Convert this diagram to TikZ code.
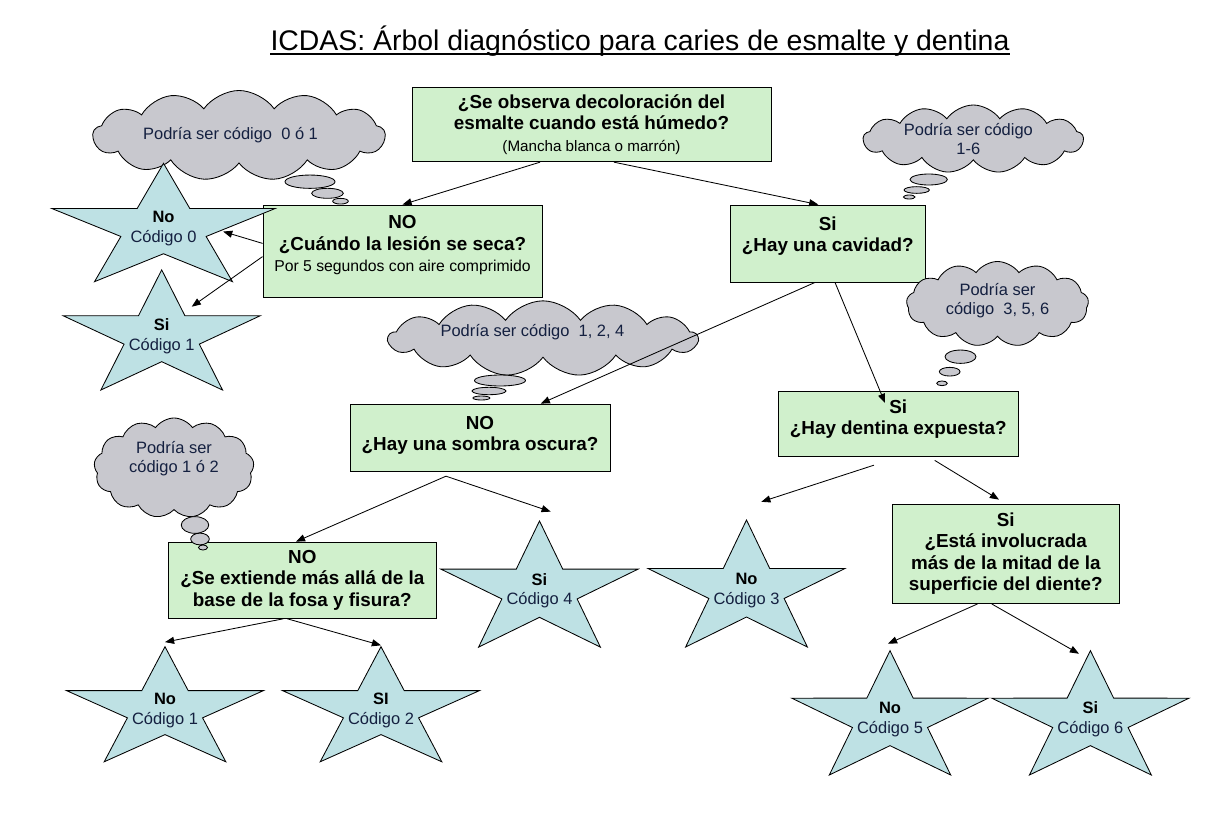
\documentclass[tikz,border=0pt]{standalone}
\usepackage{fontspec}
\setmainfont{Liberation Sans}
\usetikzlibrary{shapes.geometric,shapes.symbols,arrows.meta}

\definecolor{boxgreen}{RGB}{208,240,204}
\definecolor{starblue}{RGB}{190,225,228}
\definecolor{cloudgray}{RGB}{200,200,206}
\definecolor{inknavy}{RGB}{20,32,64}

% depth strut that lifts the text inside a fixed-size node
\newcommand{\padbelow}[1]{\rule[-#1]{0pt}{#1}}

\tikzset{
  question/.style={draw=black, line width=0.6pt, fill=boxgreen, align=center, inner sep=0pt,
    font=\fontsize{13.4}{15.3}\selectfont\bfseries},
  codestar/.style={star, star points=5, star point ratio=2.618, draw=black, line width=0.6pt,
    fill=starblue, inner sep=0pt},
  startext/.style={align=center, inner sep=0pt, text=inknavy, font=\fontsize{11.7}{14}\selectfont},
  thought/.style={cloud, cloud puffs=13, cloud puff arc=110, cloud ignores aspect, draw=black,
    line width=0.6pt, fill=cloudgray, align=center, inner sep=0pt, text=inknavy,
    font=\fontsize{11.7}{13.5}\selectfont},
  bubble/.style={ellipse, draw=black, line width=0.6pt, fill=cloudgray, inner sep=0pt},
  link/.style={line width=0.6pt, -{Triangle[length=6.5pt,width=5pt]}}
}

\begin{document}
\begin{tikzpicture}[x=0.025cm, y=-0.025cm]
        % Page
        \fill[white] (0,0) rectangle (1232,816);
        \useasboundingbox (0,0) rectangle (1232,816);

        % Title
        \node[anchor=base, inner sep=0pt, font=\fontsize{20.2}{24}\selectfont] (title) at (640,50)
            {ICDAS: Árbol diagnóstico para caries de esmalte y dentina};
        \draw[line width=1.4pt] ([yshift=-2.8pt]title.base west) -- ([yshift=-2.8pt]title.base east);

        % Question boxes
        \node[question, minimum width=8.975cm, minimum height=1.8675cm] (q0) at (591.5,124.4)
            {¿Se observa decoloración del\\esmalte cuando está húmedo?\\
             {\mdseries\fontsize{10.8}{13}\selectfont (Mancha blanca o marrón)}};
        \node[question, minimum width=6.975cm, minimum height=2.3cm] (n1) at (402.5,251)
            {NO\\¿Cuándo la lesión se seca?\\
             {\mdseries\fontsize{11.2}{13}\selectfont Por 5 segundos con aire comprimido\padbelow{10.4pt}}};
        \node[question, minimum width=4.875cm, minimum height=1.925cm] (y1) at (827.8,243.5)
            {Si\\¿Hay una cavidad?\padbelow{13.4pt}};
        \node[question, minimum width=6.5cm, minimum height=1.6925cm] (n2) at (480,437.9)
            {NO\\¿Hay una sombra oscura?\padbelow{6.3pt}};
        \node[question, minimum width=6cm, minimum height=1.6425cm] (y2) at (898.3,423.9)
            {Si\\¿Hay dentina expuesta?\padbelow{9.7pt}};
        \node[question, minimum width=6.685cm, minimum height=1.9075cm] (n3) at (302.3,580.2)
            {NO\\¿Se extiende más allá de la\\base de la fosa y fisura?};
        \node[question, minimum width=5.6625cm, minimum height=2.4875cm] (y3) at (1005.8,553.8)
            {Si\\¿Está involucrada\\más de la mitad de la\\superficie del diente?};

        % Thought clouds with their bubbles
        \node[thought, minimum width=7.3cm, minimum height=2.25cm] (c1) at (239,135.5)
            {Podría ser código~~0 ó 1\hspace*{12pt}};
        \node[bubble, minimum width=1.25cm, minimum height=0.333cm] (c1a) at (310,181.7) {};
        \node[bubble, minimum width=0.79cm, minimum height=0.25cm] (c1b) at (327.5,193.3) {};
        \node[bubble, minimum width=0.39cm, minimum height=0.1425cm] (c1c) at (340.5,201.2) {};

        \node[thought, minimum width=5.5cm, minimum height=1.7cm] (c2) at (973.3,139)
            {Podría ser código\hspace*{7pt}\\1-6\hspace*{7pt}};
        \node[bubble, minimum width=0.933cm, minimum height=0.275cm] (c2a) at (928.7,179.5) {};
        \node[bubble, minimum width=0.633cm, minimum height=0.167cm] (c2b) at (916.7,190) {};
        \node[bubble, minimum width=0.29cm, minimum height=0.1cm] (c2c) at (909.2,197) {};

        \node[thought, minimum width=4.55cm, minimum height=2.125cm] (c3) at (997.5,304)
            {Podría ser\\código~~3, 5, 6\padbelow{7.5pt}};
        \node[bubble, minimum width=0.775cm, minimum height=0.333cm] (c3a) at (960.5,356.7) {};
        \node[bubble, minimum width=0.517cm, minimum height=0.217cm] (c3b) at (949.7,371.7) {};
        \node[bubble, minimum width=0.265cm, minimum height=0.117cm] (c3c) at (942,383.3) {};

        \node[thought, minimum width=7.725cm, minimum height=1.675cm] (c4) at (543,338.5)
            {Podría ser código~~1, 2, 4\hspace*{15pt}\padbelow{11.7pt}};
        \node[bubble, minimum width=1.275cm, minimum height=0.275cm] (c4a) at (500,380.5) {};
        \node[bubble, minimum width=0.85cm, minimum height=0.185cm] (c4b) at (489,391) {};
        \node[bubble, minimum width=0.425cm, minimum height=0.1cm] (c4c) at (481.4,398) {};

        \node[thought, minimum width=4cm, minimum height=2.5cm] (c5) at (174,468)
            {Podría ser\\código 1 ó 2\padbelow{16pt}};
        \node[bubble, minimum width=0.6875cm, minimum height=0.4175cm] (c5a) at (195,525) {};
        \node[bubble, minimum width=0.465cm, minimum height=0.2925cm] (c5b) at (200,539) {};
        \node[bubble, minimum width=0.225cm, minimum height=0.125cm] (c5c) at (203,547.5) {};

        % Code stars
        \node[codestar, minimum size=3.27cm, xscale=1.794] (code0) at (163.5,228.75) {};
        \node[startext] (lbl0) at (code0.center) {\textcolor{black}{\textbf{No}}\\Código 0};
        \node[codestar, minimum size=3.32cm, xscale=1.559] (code1) at (161.7,336.3) {};
        \node[startext] (lbl1) at (code1.center) {\textcolor{black}{\textbf{Si}}\\Código 1};
        \node[codestar, minimum size=3.485cm, xscale=1.486] (code4) at (539.5,590.7) {};
        \node[startext] (lbl4) at (code4.center) {\textcolor{black}{\textbf{Si}}\\Código 4};
        \node[codestar, minimum size=3.51cm, xscale=1.475] (code3) at (746.5,590.2) {};
        \node[startext] (lbl3) at (code3.center) {\textcolor{black}{\textbf{No}}\\Código 3};
        \node[codestar, minimum size=3.18cm, xscale=1.626] (code1b) at (165,710.3) {};
        \node[startext] (lbl1b) at (code1b.center) {\textcolor{black}{\textbf{No}}\\Código 1};
        \node[codestar, minimum size=3.18cm, xscale=1.626] (code2) at (381,710.3) {};
        \node[startext] (lbl2) at (code2.center) {\textcolor{black}{\textbf{SI}}\\Código 2};
        \node[codestar, minimum size=3.435cm, xscale=1.503] (code5) at (890,719.4) {};
        \node[startext] (lbl5) at (code5.center) {\textcolor{black}{\textbf{No}}\\Código 5};
        \node[codestar, minimum size=3.435cm, xscale=1.509] (code6) at (1090.4,719.4) {};
        \node[startext] (lbl6) at (code6.center) {\textcolor{black}{\textbf{Si}}\\Código 6};

        % Arrows
        \draw[link] ([xshift=-1.2875cm]q0.south) -- (n1.north);
        \draw[link] ([xshift=0.5625cm]q0.south) -- ([xshift=-0.2375cm]y1.north);
        \draw[link] ([yshift=0.19cm]n1.west) -- ([xshift=1.49cm,yshift=-0.07cm]code0.center);
        \draw[link] ([yshift=-0.14cm]n1.west) -- ([xshift=0.75cm,yshift=0.74cm]code1.center);
        \draw[link] ([xshift=-0.32cm]y1.south) -- ([xshift=1.5175cm]n2.north);
        \draw[link] ([xshift=0.18cm]y1.south) -- ([xshift=-0.3325cm,yshift=-0.3075cm]y2.north);
        \draw[link] ([xshift=-0.85cm,yshift=-0.1cm]n2.south) -- ([xshift=-0.16cm]n3.north);
        \draw[link] ([xshift=-0.85cm,yshift=-0.1cm]n2.south) -- ([xshift=0.28cm,yshift=0.2cm]code4.outer point 1);
        \draw[link] ([xshift=-0.61cm,yshift=-0.2cm]y2.south) -- ([xshift=0.37cm,yshift=0.42cm]code3.outer point 1);
        \draw[link] ([xshift=0.91cm,yshift=-0.08cm]y2.south) -- ([xshift=-0.17cm,yshift=0.1cm]y3.north);
        \draw[link] ([xshift=-0.475cm]n3.south) -- ([yshift=0.08cm]code1b.outer point 1);
        \draw[link] ([xshift=-0.375cm]n3.south) -- (code2.outer point 1);
        \draw[link] ([xshift=-0.71cm]y3.south) -- ([xshift=-0.05cm,yshift=0.14cm]code5.outer point 1);
        \draw[link] ([xshift=-0.35cm]y3.south) -- ([xshift=-0.285cm,yshift=-0.11cm]code6.outer point 1);
\end{tikzpicture}
\end{document}
